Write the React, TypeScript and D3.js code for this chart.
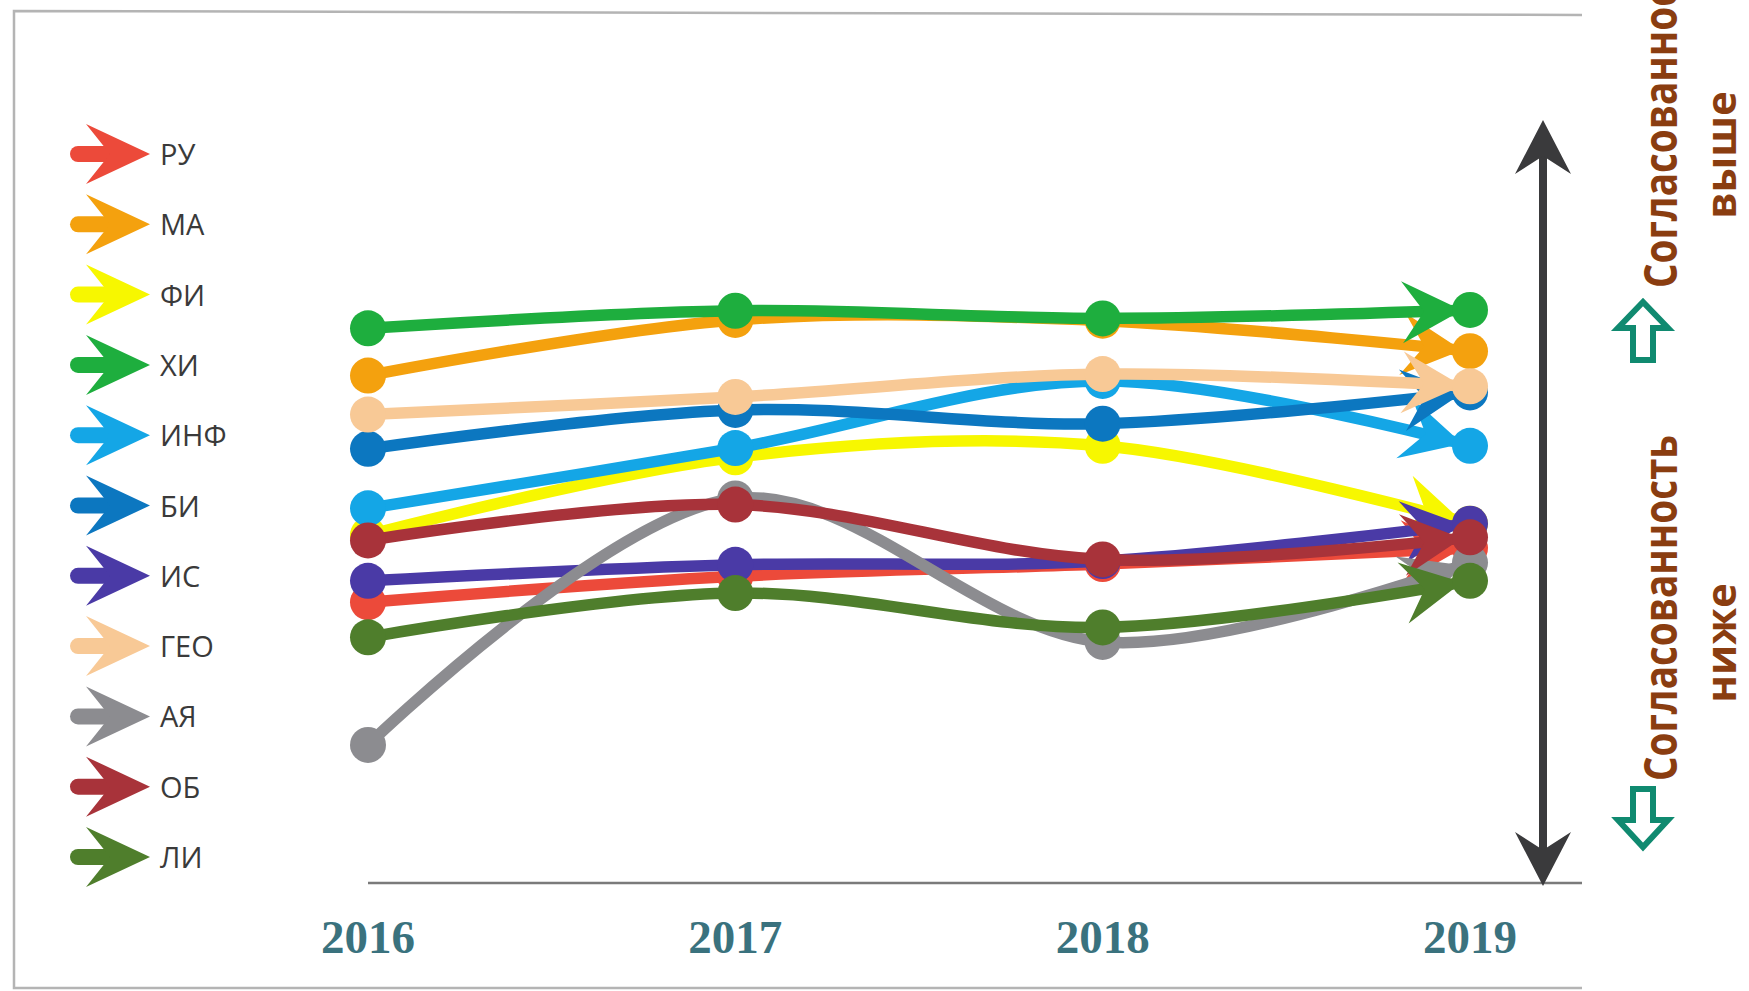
import React from "react";
import * as d3 from "d3";

const years = ["2016", "2017", "2018", "2019"];
const seriesNames = ["РУ", "МА", "ФИ", "ХИ", "ИНФ", "БИ", "ИС", "ГЕО", "АЯ", "ОБ", "ЛИ"];
const seriesColors = [
  "#EC4A3A", "#F4A10E", "#F7F700", "#1EAE3E", "#14A6E6", "#0C77C0",
  "#4A3AA6", "#F8C996", "#8C8C90", "#A8333A", "#4F7E2C",
];
const ruValues = [3.68, 4.02, 4.18, 4.39];
const maValues = [6.65, 7.38, 7.37, 6.97];
const fiValues = [4.56, 5.58, 5.73, 4.71];
const khiValues = [7.27, 7.5, 7.4, 7.51];
const infValues = [4.91, 5.7, 6.58, 5.73];
const biValues = [5.69, 6.2, 6.02, 6.43];
const isValues = [3.96, 4.17, 4.22, 4.71];
const geoValues = [6.14, 6.37, 6.67, 6.51];
const ayaValues = [1.81, 5.04, 3.16, 4.2];
const obValues = [4.49, 4.96, 4.24, 4.53];
const liValues = [3.22, 3.8, 3.35, 3.96];
const seriesValues = [
  ruValues, maValues, fiValues, khiValues, infValues, biValues,
  isValues, geoValues, ayaValues, obValues, liValues,
];
const upperLabel = ["Согласованность", "выше"];
const lowerLabel = ["Согласованность", "ниже"];

const W = 1749;
const H = 991;

export default function App() {
  const x = d3.scalePoint<string>().domain(years).range([368, 1470]);
  const y = d3.scaleLinear().domain([0, 10]).range([883, 120]);
  const line = d3
    .line<number>()
    .x((_, i) => x(years[i]) as number)
    .y((d) => y(d))
    .curve(d3.curveCatmullRom.alpha(0.5));
  const legendY = d3
    .scalePoint<string>()
    .domain(seriesNames)
    .range([154, 857]);

  const brown = "#8A3D10";
  const teal = "#108A70";

  return (
    <svg
      width={W}
      height={H}
      viewBox={`0 0 ${W} ${H}`}
      style={{ position: "absolute", left: 0, top: 0, background: "#fff" }}
      fontFamily="'Open Sans', 'Liberation Sans', sans-serif"
    >
      <defs>
        {seriesColors.map((c, i) => (
          <marker
            key={i}
            id={`ah${i}`}
            markerUnits="userSpaceOnUse"
            viewBox="-80 -40 90 80"
            markerWidth={90}
            markerHeight={80}
            refX={0}
            refY={0}
            orient="auto"
          >
            <path d="M-8,0 L-68,-31 L-46,0 L-68,31 Z" fill={c} />
          </marker>
        ))}
      </defs>
      <rect x={0} y={0} width={W} height={H} fill="#fff" />

      {/* frame */}
      <path
        d="M1582,15 L14,11 L14,988 L1582,988"
        fill="none"
        stroke="#b4b4b4"
        strokeWidth={2.5}
      />

      {/* x axis line */}
      <line x1={x("2016")} x2={1582} y1={883} y2={883} stroke="#7a7a7a" strokeWidth={2.5} />
      {years.map((yr) => (
        <text
          key={yr}
          x={x(yr)}
          y={953}
          textAnchor="middle"
          fontFamily="'Liberation Serif', 'DejaVu Serif', serif"
          fontWeight="bold"
          fontSize={47}
          fill="#3a727e"
        >
          {yr}
        </text>
      ))}

      {/* series */}
      {seriesValues.map((vals, i) => (
        <g key={seriesNames[i]}>
          <path
            d={line(vals) as string}
            fill="none"
            stroke={seriesColors[i]}
            strokeWidth={11.5}
            strokeLinecap="round"
            markerEnd={`url(#ah${i})`}
          />
          {vals.map((v, j) => (
            <circle key={j} cx={x(years[j])} cy={y(v)} r={18} fill={seriesColors[i]} />
          ))}
        </g>
      ))}

      {/* legend */}
      {seriesNames.map((n, i) => {
        const cy = legendY(n) as number;
        return (
          <g key={n}>
            <line x1={78} x2={112} y1={cy} y2={cy} stroke={seriesColors[i]} strokeWidth={16} strokeLinecap="round" />
            <path
              d={`M150,${cy} L86,${cy - 30} L110,${cy} L86,${cy + 30} Z`}
              fill={seriesColors[i]}
            />
            <text x={160} y={cy + 11} fontSize={29} fill="#3a3a3a">
              {n}
            </text>
          </g>
        );
      })}

      {/* big vertical double arrow */}
      <line x1={1543} x2={1543} y1={150} y2={856} stroke="#3a3a3c" strokeWidth={8} />
      <path d="M1543,120 L1571,174 L1543,156 L1515,174 Z" fill="#3a3a3c" />
      <path d="M1543,886 L1571,832 L1543,850 L1515,832 Z" fill="#3a3a3c" />

      {/* hollow teal arrows */}
      <path
        d="M1643,302 L1668,328 L1653,328 L1653,360 L1633,360 L1633,328 L1618,328 Z"
        fill="#fff"
        stroke={teal}
        strokeWidth={6}
        strokeLinejoin="miter"
      />
      <path
        d="M1633,789 L1653,789 L1653,820 L1668,820 L1643,847 L1618,820 L1633,820 Z"
        fill="#fff"
        stroke={teal}
        strokeWidth={6}
        strokeLinejoin="miter"
      />

      {/* rotated labels */}
      <text
        transform="translate(1677,288) rotate(-90)"
        textAnchor="start"
        fontWeight="bold"
        fontSize={46}
        fill={brown}
        textLength={346}
        lengthAdjust="spacingAndGlyphs"
      >
        {upperLabel[0]}
      </text>
      <text
        transform="translate(1736,155) rotate(-90)"
        textAnchor="middle"
        fontWeight="bold"
        fontSize={42}
        fill={brown}
      >
        {upperLabel[1]}
      </text>
      <text
        transform="translate(1677,781) rotate(-90)"
        textAnchor="start"
        fontWeight="bold"
        fontSize={46}
        fill={brown}
        textLength={346}
        lengthAdjust="spacingAndGlyphs"
      >
        {lowerLabel[0]}
      </text>
      <text
        transform="translate(1736,643) rotate(-90)"
        textAnchor="middle"
        fontWeight="bold"
        fontSize={42}
        fill={brown}
      >
        {lowerLabel[1]}
      </text>
    </svg>
  );
}
